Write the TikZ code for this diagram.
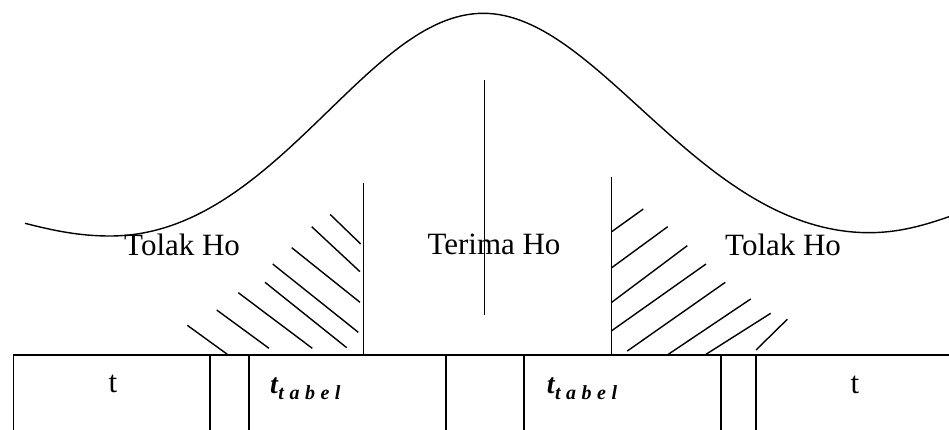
\documentclass[tikz,border=0pt]{standalone}
\usepackage{fontspec}
\setmainfont{Liberation Serif}
\tikzset{
  ln/.style={line width=1.4pt, black},
  lbl/.style={inner sep=0pt, anchor=base west, font=\fontsize{31}{36}\selectfont},
  tlbl/.style={inner sep=0pt, anchor=base, font=\fontsize{31}{36}\selectfont},
  ttab/.style={inner sep=0pt, anchor=base west}
}
\newcommand{\ttabel}{{\fontsize{28}{34}\selectfont\bfseries\itshape t}\kern0.5pt\raisebox{-6pt}{\fontsize{20}{22}\selectfont\bfseries\itshape t\kern5.5pt a\kern5.5pt b\kern5.5pt e\kern5.5pt l}}
\begin{document}
\begin{tikzpicture}[x=1pt,y=-1pt]
\useasboundingbox (0,0) rectangle (949,430);
\clip (0,0) rectangle (949,430);
\fill[white] (0,0) rectangle (949,430);
% bell curve
\draw[ln, line width=1.4pt] (25,223.3) .. controls (55,231) and (80,236) .. (110,236)
  .. controls (275,236) and (365,13.3) .. (483.3,13.3)
  .. controls (600,13.3) and (700,233) .. (870,232.7)
  .. controls (900,232.5) and (925,225) .. (949,216.7);
% centre line
\draw[ln] (484.7,80) -- (484.7,315);
% critical lines
\draw[ln] (363.3,182.7) -- (363.3,355);
\draw[ln] (611.7,177.3) -- (611.7,355);
% left hatch
\draw[ln] (330,214.3) -- (360.7,244);
\draw[ln] (311.7,226.7) -- (360,271.7);
\draw[ln] (291.7,247.7) -- (360,302.3);
\draw[ln] (272.7,264) -- (358.3,332.3);
\draw[ln] (265,282.3) -- (346.7,347.7);
\draw[ln] (238.3,292.7) -- (312.3,348.3);
\draw[ln] (216.7,310) -- (269,348.3);
\draw[ln] (187.3,325.3) -- (227.3,354.3);
% right hatch
\draw[ln] (611.7,231.7) -- (643.3,209);
\draw[ln] (611.7,267.7) -- (667.7,226.7);
\draw[ln] (611.7,302.3) -- (687.3,245.7);
\draw[ln] (611.7,330.7) -- (706,264);
\draw[ln] (627.3,351) -- (725.3,282.3);
\draw[ln] (668.3,354.3) -- (750.7,299);
\draw[ln] (706,354.3) -- (770.7,313.3);
\draw[ln] (756,350) -- (787.3,319.3);
% table row
\draw[ln] (13.3,355) -- (960,355);
\foreach \xx in {13.3,210,249,446,524,721,756}
  \draw[ln] (\xx,355) -- (\xx,440);
% labels
\node[lbl] (tl) at (124,255) {Tolak Ho};
\node[lbl] (th) at (427.3,254.3) {Terima Ho};
\node[lbl] (tr) at (725,255) {Tolak Ho};
\node[tlbl] (t1) at (113,392.7) {t};
\node[tlbl] (t2) at (855,393) {t};
\node[ttab] (tt1) at (270,393) {\ttabel};
\node[ttab] (tt2) at (546.7,393) {\ttabel};
\end{tikzpicture}
\end{document}
